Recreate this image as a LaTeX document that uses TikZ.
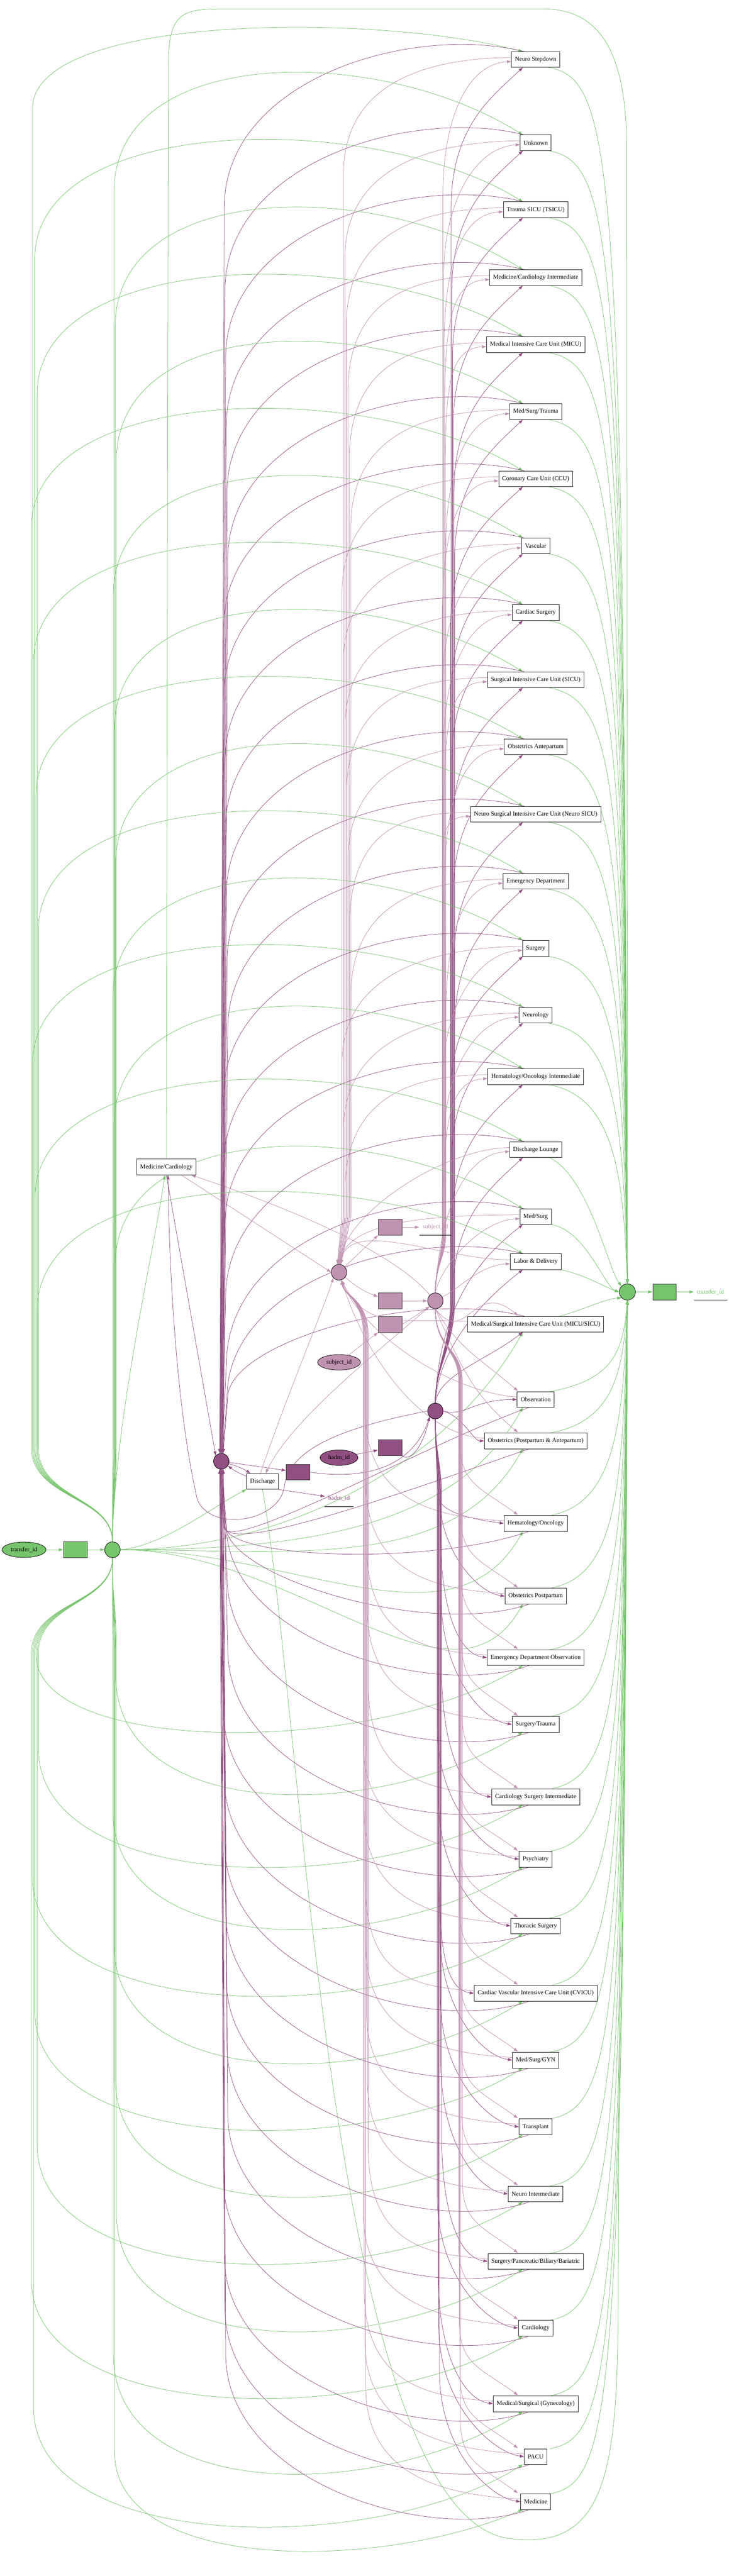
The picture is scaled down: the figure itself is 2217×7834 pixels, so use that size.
\documentclass[tikz,border=0pt]{standalone}
\usepackage{fontspec}
\setmainfont{Liberation Serif}
\usepackage{tikz}
\usetikzlibrary{shapes.geometric}
\usetikzlibrary{arrows.meta}
\usetikzlibrary{backgrounds}
\definecolor{gcol}{RGB}{118,196,108}
\definecolor{lcol}{RGB}{191,146,177}
\definecolor{dcol}{RGB}{145,80,130}
\newcommand{\unitfont}{\fontsize{18.67}{22}\selectfont}

\begin{document}
\begin{tikzpicture}[x=1pt,y=-1pt,>={Triangle[length=13pt,width=9pt]}]
\tikzstyle{unit}=[rectangle,draw=black!85,line width=1.3pt,fill=white,minimum height=48pt,inner xsep=10.5pt,inner ysep=0pt,font=\unitfont]
\tikzstyle{dotnode}=[ellipse,draw=black,line width=1.2pt,minimum width=47pt,minimum height=48pt,inner sep=0pt]
\tikzstyle{sqnode}=[rectangle,draw=black!75,line width=1.3pt,minimum width=72pt,minimum height=48pt,inner sep=0pt]
\tikzstyle{keynode}=[ellipse,draw=black,line width=1.2pt,minimum height=47pt,inner sep=0pt,font=\unitfont]
\tikzstyle{outnode}=[font=\unitfont,minimum height=48pt,inner sep=0pt]
\tikzstyle{gedge}=[draw=gcol,line width=1.2pt]
\tikzstyle{ledge}=[draw=lcol,line width=1.2pt]
\tikzstyle{dedge}=[draw=dcol,line width=1.2pt]
\useasboundingbox (0,0) rectangle (2217,7834);

\node[keynode,fill=gcol,minimum width=134pt] (tid) at (73,4713) {transfer\_id};
\node[sqnode,fill=gcol] (gsq1) at (229,4713) {};
\node[dotnode,fill=gcol] (G1) at (342,4713) {};
\node[unit] (MC) at (506,3549) {Medicine/Cardiology};
\node[dotnode,fill=dcol] (D1) at (673,4444) {};
\node[unit] (DS) at (798,4505) {Discharge};
\node[sqnode,fill=dcol] (dsq1) at (906,4477) {};
\node[dotnode,fill=lcol] (L1) at (1031,3869) {};
\node[keynode,fill=lcol,minimum width=130pt] (sid) at (1031,4143) {subject\_id};
\node[keynode,fill=dcol,minimum width=115pt] (hid) at (1031,4433) {hadm\_id};
\node[outnode,text=dcol,minimum width=86pt] (hidout) at (1031,4557) {hadm\_id};
\node[sqnode,fill=lcol] (lsqa) at (1186,3732) {};
\node[sqnode,fill=lcol] (lsqb) at (1186,3956) {};
\node[sqnode,fill=lcol] (lsqc) at (1186,4028) {};
\node[sqnode,fill=dcol] (dsq2) at (1186,4403) {};
\node[outnode,text=lcol,minimum width=98pt] (sidout) at (1324,3732) {subject\_id};
\node[dotnode,fill=lcol] (L2) at (1324,3956) {};
\node[dotnode,fill=dcol] (D2) at (1324,4291) {};
\node[dotnode,fill=gcol,minimum width=49pt,minimum height=49pt] (G2) at (1908,3929) {};
\node[sqnode,fill=gcol] (gsq2) at (2021,3929) {};
\node[outnode,text=gcol,minimum width=102pt] (tidout) at (2161,3929) {transfer\_id};
\draw[black!70,line width=1.3pt] (tidout.south west) -- (tidout.south east);
\draw[black,line width=1.3pt] (sidout.south west) -- (sidout.south east);
\draw[black,line width=1.3pt] (hidout.south west) -- (hidout.south east);

\node[unit] (U1) at (1629,181) {Neuro Stepdown};
\node[unit] (U2) at (1629,434) {Unknown};
\node[unit] (U3) at (1629,638) {Trauma SICU (TSICU)};
\node[unit] (U4) at (1629,844) {Medicine/Cardiology Intermediate};
\node[unit] (U5) at (1629,1048) {Medical Intensive Care Unit (MICU)};
\node[unit] (U6) at (1629,1252) {Med/Surg/Trauma};
\node[unit] (U7) at (1629,1456) {Coronary Care Unit (CCU)};
\node[unit] (U8) at (1629,1660) {Vascular};
\node[unit] (U9) at (1629,1863) {Cardiac Surgery};
\node[unit] (U10) at (1629,2067) {Surgical Intensive Care Unit (SICU)};
\node[unit] (U11) at (1629,2271) {Obstetrics Antepartum};
\node[unit] (U12) at (1629,2476) {Neuro Surgical Intensive Care Unit (Neuro SICU)};
\node[unit] (U13) at (1629,2680) {Emergency Department};
\node[unit] (U14) at (1629,2884) {Surgery};
\node[unit] (U15) at (1629,3087) {Neurology};
\node[unit] (U16) at (1629,3274) {Hematology/Oncology Intermediate};
\node[unit] (U17) at (1629,3496) {Discharge Lounge};
\node[unit] (U18) at (1629,3700) {Med/Surg};
\node[unit] (U19) at (1629,3837) {Labor \& Delivery};
\node[unit] (U20) at (1629,4027) {Medical/Surgical Intensive Care Unit (MICU/SICU)};
\node[unit] (U21) at (1629,4256) {Observation};
\node[unit] (U22) at (1629,4382) {Obstetrics (Postpartum \& Antepartum)};
\node[unit] (U23) at (1629,4633) {Hematology/Oncology};
\node[unit] (U24) at (1629,4854) {Obstetrics Postpartum};
\node[unit] (U25) at (1629,5041) {Emergency Department Observation};
\node[unit] (U26) at (1629,5244) {Surgery/Trauma};
\node[unit] (U27) at (1629,5465) {Cardiology Surgery Intermediate};
\node[unit] (U28) at (1629,5654) {Psychiatry};
\node[unit] (U29) at (1629,5857) {Thoracic Surgery};
\node[unit] (U30) at (1629,6062) {Cardiac Vascular Intensive Care Unit (CVICU)};
\node[unit] (U31) at (1629,6265) {Med/Surg/GYN};
\node[unit] (U32) at (1629,6468) {Transplant};
\node[unit] (U33) at (1629,6672) {Neuro Intermediate};
\node[unit] (U34) at (1629,6877) {Surgery/Pancreatic/Biliary/Bariatric};
\node[unit] (U35) at (1629,7080) {Cardiology};
\node[unit] (U36) at (1629,7310) {Medical/Surgical (Gynecology)};
\node[unit] (U37) at (1629,7471) {PACU};
\node[unit] (U38) at (1629,7608) {Medicine};

\begin{scope}[on background layer]
\fill[white] (0,0) rectangle (2217,7834);
\draw[gedge,->] (tid) -- (gsq1);
\draw[gedge,->] (gsq1) -- (G1);
\draw[gedge,->] (G2) -- (gsq2);
\draw[gedge,->] (gsq2) -- (tidout);
\draw[gedge,->] (G1.north) .. controls (350,4300) and (470,3800) .. ([xshift=-5pt]MC.south);
\draw[gedge,->] (MC.north) -- (512,200) .. controls (512,27) and (560,27) .. (700,27) -- (1650,27) .. controls (1820,27) and (1905,150) .. (1906,450) -- (G2.north);
\draw[gedge,->] (G1.east) .. controls (500,4700) and (650,4580) .. (DS.south west);
\draw[gedge,->] (DS.south) .. controls (920,5200) and (1000,7650) .. (1550,7720) .. controls (1850,7760) and (1878,7500) .. (1880,7000) .. controls (1885,5000) and (1906,4300) .. (G2.south);
\draw[dedge,->] (MC.south) -- (D1.north west);
\draw[dedge,->] (D2.west) .. controls (1100,4330) and (880,4390) .. (865,4520) .. controls (850,4630) and (640,4660) .. (600,4560) .. controls (540,4300) and (515,3900) .. ([xshift=5pt]MC.south);
\draw[ledge,->] ([xshift=-45pt]MC.south east) -- (L1.west);
\draw[ledge,->] (L2.north west) .. controls (1200,3810) and (900,3680) .. ([xshift=-15pt]MC.south east);
\draw[dedge,->] (D1) to[bend left=8] (DS);
\draw[dedge,->] (DS) to[bend left=8] (D1);
\draw[dedge,->] (D1) -- (dsq1);
\draw[dedge,->] (DS.south east) -- (hidout);
\draw[ledge,->] (L2.south west) .. controls (1100,4150) and (880,4330) .. ([xshift=10pt]DS.north);
\draw[ledge,->] ([xshift=-6pt]DS.north) .. controls (870,4250) and (980,3990) .. (L1.south west);
\draw[dedge,->] (dsq1.east) .. controls (1100,4500) and (1250,4470) .. (D2.south west);
\draw[dedge,->] (dsq2.south east) .. controls (1250,4445) and (1285,4400) .. (D2.south west);
\draw[dedge,->] (hid) -- (dsq2);
\draw[ledge,->] (L1) -- (lsqa.south west);
\draw[ledge,->] (lsqa) -- (sidout);
\draw[ledge,->] (L1) to[bend right=10] (lsqb);
\draw[ledge,->] (lsqb) -- (L2);
\draw[ledge,->] (sid) -- (lsqc.south west);
\draw[ledge,->] (lsqc.east) -- (L2.south west);

\foreach \i/\yb in {1/181,2/434,3/638,4/844,5/1048,6/1252,7/1456,8/1660,9/1863,10/2067,11/2271,12/2476,13/2680,14/2884,15/3087,16/3274,17/3496,18/3700,19/3837,20/4027,21/4256,22/4382,23/4633,24/4854,25/5041,26/5244,27/5465,28/5654,29/5857,30/6062,31/6265,32/6468,33/6672,34/6877,35/7080,36/7310,37/7471,38/7608}{
  \pgfmathsetmacro\dd{mod(\i,7)*3}
  \pgfmathsetmacro\sx{\dd*0.6-5}
  \pgfmathsetmacro\fx{mod(\i,2)==1 ? 95+\dd*1.2 : 343+0.6*\dd}
  \ifdim\yb pt<3950pt
    \pgfmathsetmacro\yt{max(\yb-300,40)}
    \draw[gedge,->] (G1.north) .. controls (342,4550) and (\fx,4560) .. (\fx,4400) -- (\fx,\yb+150) .. controls (\fx,\yt) and (1150,\yt) .. (1590,\yb-24);
  \else\ifdim\yb pt<4900pt
    \draw[gedge,->] (G1.east) .. controls (900,4713) and (1380,\yb+400) .. (1590,\yb+24);
  \else
    \pgfmathsetmacro\yt{min(\yb+300,7822)}
    \pgfmathsetmacro\ys{max(\yb-150,5030)}
    \draw[gedge,->] (G1.south) .. controls (342,4880) and (\fx,4870) .. (\fx,5030) -- (\fx,\ys) .. controls (\fx,\yt) and (1150,\yt) .. (1590,\yb+24);
  \fi\fi
  \ifdim\yb pt<3450pt
    \pgfmathsetmacro\yc{\yb+min(300,0.5*(3904-\yb))}
    \draw[gedge,->] (1667,\yb+24) .. controls (1870,\yb+60) and (1895,\yc) .. (G2.north);
  \else\ifdim\yb pt<3600pt
    \draw[gedge,->] (1670,\yb+24) .. controls (1790,\yb+80) and (1850,3860) .. (G2.north west);
  \else\ifdim\yb pt<3950pt
    \draw[gedge,->] (U\i.south east) .. controls (1780,\yb+40) and (1840,3915) .. (G2.west);
  \else\ifdim\yb pt<4100pt
    \draw[gedge,->] (1700,\yb-24) .. controls (1770,3985) and (1840,3950) .. (G2.south west);
  \else
    \pgfmathsetmacro\yc{\yb-min(300,0.5*(\yb-3953))}
    \draw[gedge,->] (1672,\yb-24) .. controls (1870,\yb-60) and (1895,\yc) .. (G2.south);
  \fi\fi\fi\fi
  \pgfmathsetmacro\cx{1370+\dd*0.7}
  \pgfmathsetmacro\ex{1330+\dd*0.7}
  \ifdim\yb pt<3550pt
    \draw[dedge,->] (D2.north) .. controls (1324,4150) and (\cx,4100) .. (\cx,3950) -- (\cx,\yb+450) .. controls (\cx,\yb+200) and (1500,\yb+110) .. (1590,\yb+24);
  \else\ifdim\yb pt<4200pt
    \pgfmathsetmacro\yc{min(\yb+250,4180)}
    \draw[dedge,->] (D2.north) .. controls (1335,\yc) and (1480,\yb+110) .. (1590,\yb+24);
  \else\ifdim\yb pt<4450pt
    \draw[dedge,->] (D2.east) .. controls (1410,4310) and (1440,\yb) .. (U\i.west);
  \else
    \pgfmathsetmacro\ys{max(\yb-400,4550)}
    \pgfmathsetmacro\yc{max(\yb-150,4600)}
    \draw[dedge,->] (D2.south) .. controls (1324,4420) and (\ex,4450) .. (\ex,4550) -- (\ex,\ys) .. controls (\ex,\yc) and ([shift={(-90,-12)}]U\i.west) .. (U\i.west);
  \fi\fi\fi
  \pgfmathsetmacro\bx{680+\dd*0.7}
  \ifdim\yb pt<4250pt
    \pgfmathsetmacro\ye{min(\yb+450,4250)}
    \pgfmathsetmacro\yc{min(\yb+60,\ye-100)}
    \draw[dedge,->] (1595,\yb-24) .. controls (1250,\yb-110) and (\bx,\yc) .. (\bx,\ye) -- ([xshift=\sx pt]D1.north);
  \else
    \pgfmathsetmacro\ye{max(\yb-450,4640)}
    \pgfmathsetmacro\yc{max(\yb-60,\ye+100)}
    \draw[dedge,->] (1610,\yb+24) .. controls (1300,\yb+130) and (\bx,\yc) .. (\bx,\ye) -- ([xshift=\sx pt]D1.south);
  \fi
  \pgfmathsetmacro\lx{1345+\dd*0.6}
  \pgfmathsetmacro\mx{1395+\dd*0.6}
  \ifdim\yb pt<3300pt
    \draw[ledge,->] (L2.north) .. controls (1324,3850) and (\lx,3820) .. (\lx,3750) -- (\lx,\yb+420) .. controls (\lx,\yb+150) and ([shift={(-120,12)}]U\i.west) .. ([yshift=-6pt]U\i.west);
  \else\ifdim\yb pt<3950pt
    \draw[ledge,->] (L2.north) .. controls (1340,\yb+150) and ([shift={(-120,12)}]U\i.west) .. ([yshift=-6pt]U\i.west);
  \else\ifdim\yb pt<4500pt
    \pgfmathsetmacro\yc{max(\yb-0.55*(\yb-3980),4100)}
    \draw[ledge,->] (L2.south) .. controls (1400+\dd,\yc) and (1440,\yb-140) .. (1575,\yb-26);
  \else
    \draw[ledge,->] (L2.south) .. controls (1324,4100) and (\mx,4100) .. (\mx,4200) -- (\mx,\yb-250) .. controls (\mx,\yb-120) and (1460,\yb-110) .. (1575,\yb-26);
  \fi\fi\fi
  \pgfmathsetmacro\nx{1040+\dd*1.5}
  \pgfmathsetmacro\ox{1105+\dd*0.8}
  \ifdim\yb pt<3300pt
    \draw[ledge,->] ([yshift=6pt]U\i.west) .. controls ([shift={(-200,-4)}]U\i.west) and (\nx,\yb+40) .. (\nx,\yb+350) -- (\nx,3700) -- ([xshift=\sx pt]L1.north);
  \else\ifdim\yb pt<3900pt
    \pgfmathsetmacro\yc{min(\yb+0.55*(3845-\yb),3700)}
    \draw[ledge,->] ([yshift=6pt]U\i.west) .. controls ([shift={(-200,-4)}]U\i.west) and (\nx,\yc) .. ([xshift=\sx pt]L1.north);
  \else\ifdim\yb pt<4400pt
    \pgfmathsetmacro\yc{max(\yb-0.55*(\yb-3893),4050)}
    \draw[ledge,->] ([yshift=8pt]U\i.west) .. controls ([shift={(-200,-20)}]U\i.west) and (\ox,\yc) .. ([xshift=8pt]L1.south);
  \else
    \draw[ledge,->] ([yshift=8pt]U\i.west) .. controls ([shift={(-200,-20)}]U\i.west) and (\ox,\yb-60) .. (\ox,\yb-350) -- (\ox,4060) .. controls (\ox,3950) and (1045,3940) .. ([xshift=8pt]L1.south);
  \fi\fi\fi
}
\end{scope}
\end{tikzpicture}
\end{document}
